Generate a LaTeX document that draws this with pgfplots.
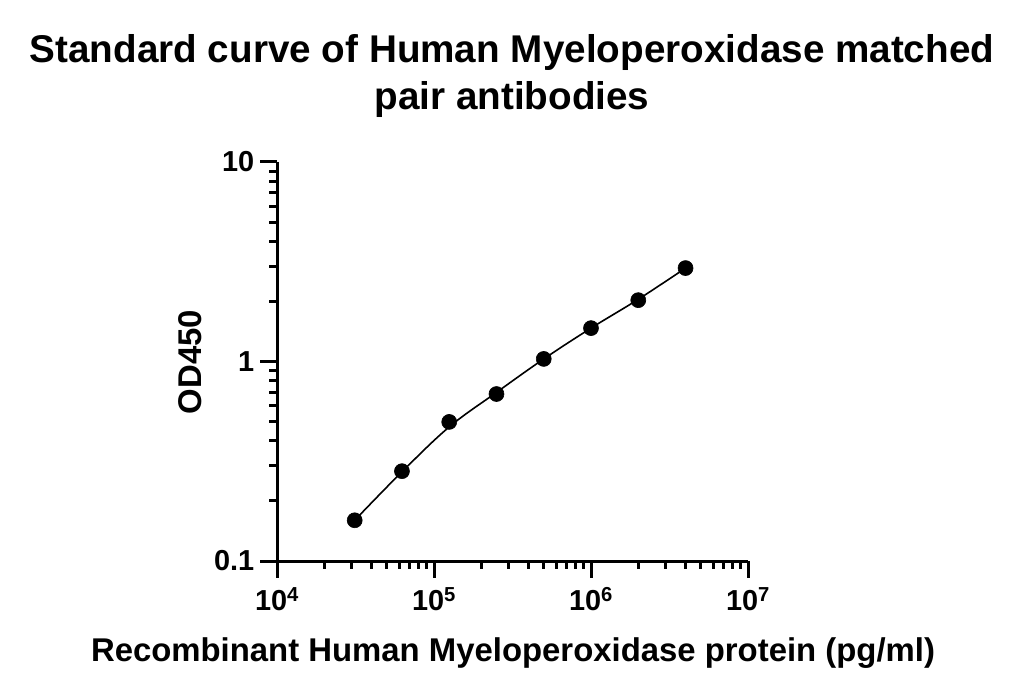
\documentclass[border=0pt]{standalone}
\usepackage{pgfplots}
\pgfplotsset{compat=1.18}
\usepackage{fontspec}
\setmainfont{Liberation Sans}
\begin{document}
\begin{tikzpicture}[line width=3bp]
\path[use as bounding box] (0,0) rectangle (1024bp,699bp);
\node[font=\bfseries\fontsize{38.8}{47}\selectfont, align=center] at (512bp,623bp) {Standard curve of Human Myeloperoxidase matched\\pair antibodies};
\begin{axis}[
  line width=3bp,
  scale only axis,
  width=471bp, height=399bp,
  at={(277bp,138bp)}, anchor=south west,
  xmode=log, ymode=log,
  xmin=1e4, xmax=1e7, ymin=0.1, ymax=10,
  axis lines=left,
  axis line style={line width=3bp, -},
  tick style={line width=3bp, black},
  tick align=outside,
  major tick length=17bp,
  minor tick length=8bp,
  xtick={1e4,1e5,1e6,1e7},
  xticklabels={10\textsuperscript{4},10\textsuperscript{5},10\textsuperscript{6},10\textsuperscript{7}},
  ytick={0.1,1,10},
  yticklabels={0.1,1,10},
  ticklabel style={font=\bfseries\fontsize{29}{33}\selectfont},
  xticklabel style={yshift=-5bp},
  yticklabel style={xshift=-1bp},
  clip=false,
]
% fitted curve (at the standards' concentrations)
\addplot[black, line width=1.6bp, smooth, tension=0.6] coordinates {
(31250,0.160) (62500,0.280) (125000,0.470) (250000,0.700) (500000,1.03) (1000000,1.47) (2000000,2.05) (4000000,2.94)
};
% measured standards
\addplot[only marks, mark=*, mark size=7.5bp, mark options={fill=black, draw=black, line width=0.6bp}] coordinates {
(31250,0.160) (62500,0.282) (125000,0.498) (250000,0.687) (500000,1.03) (1000000,1.47) (2000000,2.03) (4000000,2.94)
};
\end{axis}
\node[font=\bfseries\fontsize{33}{38}\selectfont] at (513bp,46bp) {Recombinant Human Myeloperoxidase protein (pg/ml)};
\node[font=\bfseries\fontsize{33}{38}\selectfont, rotate=90] at (190bp,337bp) {OD450};
\end{tikzpicture}
\end{document}
